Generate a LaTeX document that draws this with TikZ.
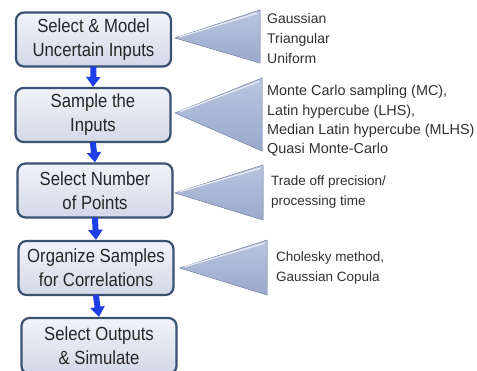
\documentclass[tikz,border=0pt]{standalone}
\usepackage{fontspec}
\setmainfont{Liberation Sans}
\newfontfamily\boxfont[FakeStretch=0.88]{Liberation Sans}
\usetikzlibrary{arrows.meta}
\definecolor{boxborder}{HTML}{3A5272}
\definecolor{boxtop}{HTML}{F1F3F9}
\definecolor{boxbot}{HTML}{D2D8E7}
\definecolor{tritop}{HTML}{BAC6DF}
\definecolor{tribot}{HTML}{99A9CB}
\definecolor{triedge}{HTML}{8696B9}
\definecolor{arrowblue}{HTML}{1E3FE6}
\definecolor{txt}{HTML}{262626}
\definecolor{desctxt}{HTML}{303030}
\begin{document}
\begin{tikzpicture}[x=1pt,y=-1pt,
  stepbox/.style={draw=boxborder, line width=2.2pt, rounded corners=8pt,
    top color=boxtop, bottom color=boxbot, minimum width=155pt,
    minimum height=54pt, inner sep=0pt, align=center, text=txt,
    font=\boxfont\fontsize{19}{24}\selectfont},
  flowarrow/.style={draw=arrowblue, line width=6pt,
    -{Triangle[width=14pt,length=10pt]}, shorten <=-1pt},
  tri/.style={top color=tritop, bottom color=tribot, draw=triedge, line width=0.5pt},
  shine/.style={draw=white, opacity=0.75, line width=1.2pt, line cap=round},
  desc/.style={anchor=west, align=left, inner sep=0pt, text=desctxt}
]
\useasboundingbox (0,0) rectangle (477,370);
\clip (0,0) rectangle (477,370);

% boxes
\node[stepbox] (b1) at (93.5,39.5) {Select \& Model\\Uncertain Inputs};
\node[stepbox] (b2) at (93,115) {Sample the\\Inputs};
\node[stepbox] (b3) at (95,190.5) {Select Number\\of Points};
\node[stepbox] (b4) at (96,268) {Organize Samples\\for Correlations};
\node[stepbox, minimum height=56pt] (b5) at (99,346) {Select Outputs\\\& Simulate};

% arrows
\draw[flowarrow] (b1.south) -- (b2.north);
\draw[flowarrow] (b2.south) -- (b3.north);
\draw[flowarrow] (b3.south) -- (b4.north);
\draw[flowarrow] (b4.south) -- (b5.north);

% triangles
\filldraw[tri] (175,38) -- (260,10) -- (260,63) -- cycle;
\draw[shine] (180,36.8) -- (257,13.2);
\filldraw[tri] (175,113) -- (262,78) -- (262,151) -- cycle;
\draw[shine] (180,111.5) -- (259,81.5);
\filldraw[tri] (175,193) -- (263,165) -- (263,220) -- cycle;
\draw[shine] (180,191.7) -- (260,168.3);
\filldraw[tri] (180,268) -- (267,240) -- (267,295) -- cycle;
\draw[shine] (185,266.7) -- (264,243.3);

% descriptions
\node[desc, font=\fontsize{14}{20}\selectfont] (d1) at (267,38)
  {Gaussian\\Triangular\\Uniform};
\node[desc, font=\fontsize{14.4}{19.3}\selectfont] (d2) at (267,121)
  {Monte Carlo sampling (MC),\\Latin hypercube (LHS),\\Median Latin hypercube (MLHS)\\Quasi Monte-Carlo};
\node[desc, font=\fontsize{13.5}{20}\selectfont] (d3) at (271,192)
  {Trade off precision/\\processing time};
\node[desc, font=\fontsize{13.5}{19.5}\selectfont] (d4) at (276,268)
  {Cholesky method,\\Gaussian Copula};
\end{tikzpicture}
\end{document}
